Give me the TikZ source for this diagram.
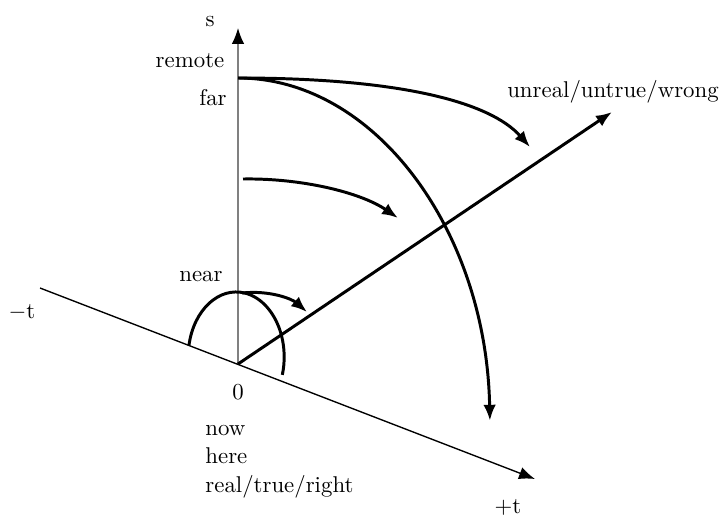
\documentclass[tikz,border=0pt]{standalone}
\usetikzlibrary{arrows.meta}
\begin{document}
\begin{tikzpicture}[x=0.0154cm,y=0.0154cm,
    axis/.style={line width=0.6pt},
    curve/.style={line width=1.3pt},
    tip/.style={-{Latex[length=7pt,width=5.5pt,color=black]}},
    lbl/.style={inner sep=0pt}]
  \useasboundingbox (0,0) rectangle (724,514);
  % body
  \coordinate (O) at (238,150);
  \coordinate (stop) at (238,486);
  \coordinate (tneg) at (40,226);
  \coordinate (tpos) at (535,35);
  \coordinate (wrongtip) at (612,402);
  \coordinate (farpt) at (238,436);
  \coordinate (midpt) at (243,335);
  \coordinate (nearpt) at (242,221);
  \coordinate (foot) at (189,169);
  \coordinate (toptip) at (530,367);
  \coordinate (midtip) at (398,296);
  \coordinate (neartip) at (307,202);
  % popisky
  \node[lbl] (s) at (210,492) {s};
  \node[lbl] (remote) at (190,453) {remote};
  \node[lbl] (far) at (213,416) {far};
  \node[lbl] (near) at (201,237) {near};
  \node[lbl] (minust) at (22,202) {$-$t};
  \node[lbl] (zero) at (238,122) {0};
  \node[lbl,anchor=base west] (now) at (205,79) {now};
  \node[lbl,anchor=base west] (here) at (205,51) {here};
  \node[lbl,anchor=base west] (real) at (205,22) {real/true/right};
  \node[lbl] (plust) at (508,7) {+t};
  \node[lbl] (unreal) at (613,422) {unreal/untrue/wrong};
  % osy
  \draw[axis,gray,tip] (O) -- (stop);
  \draw[axis,tip] (tneg) -- (tpos);
  \draw[curve,tip] (O) -- (wrongtip);
  % oblouky
  \draw[curve,tip] (farpt) arc[start angle=90,end angle=1.5,x radius=252,y radius=352];
  \draw[curve] (foot) arc[start angle=169.4,end angle=-16,x radius=48,y radius=65];
  \draw[curve,tip] (farpt) .. controls (400,436) and (490,412) .. (toptip);
  \draw[curve,tip] (midpt) .. controls (300,336) and (360,322) .. (midtip);
  \draw[curve,tip] (nearpt) .. controls (270,224) and (292,215) .. (neartip);
\end{tikzpicture}
\end{document}
